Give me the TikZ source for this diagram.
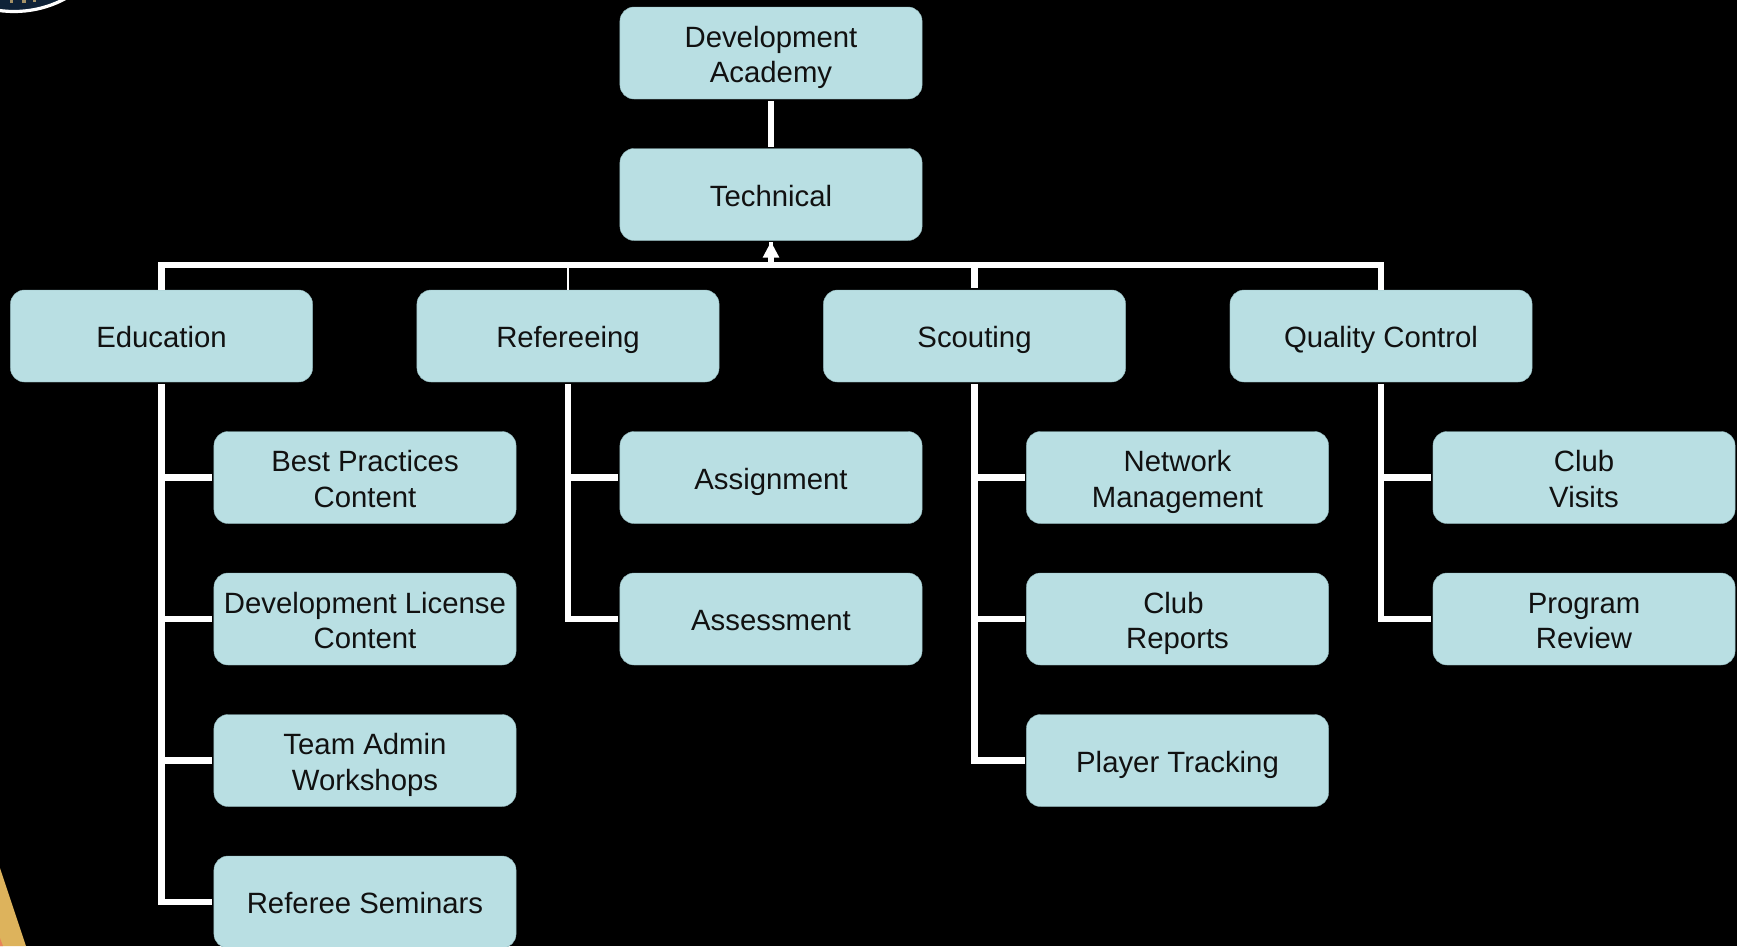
\documentclass[tikz,border=0pt]{standalone}
\usepackage{fontspec}
\setmainfont{Liberation Sans}
\usetikzlibrary{arrows.meta}
\definecolor{boxfill}{HTML}{B9DFE3}
\definecolor{boxedge}{HTML}{8FB4B8}
\definecolor{txt}{HTML}{111111}
\definecolor{seal}{HTML}{0E2238}
\definecolor{gold}{HTML}{DDB35C}
\definecolor{coral}{HTML}{E8845A}
\newcommand{\topstrut}{\rule{0pt}{23.7pt}}
\newcommand{\botstrut}{\rule[-6pt]{0pt}{6pt}}
\newcommand{\highstrut}{\rule{0pt}{24pt}}
\tikzset{
  box/.style={draw=boxedge,line width=0.3pt,fill=boxfill,rounded corners=10.5pt,minimum width=226.6pt,minimum height=69pt,
    inner sep=0pt,align=center,text=txt,font=\fontsize{22}{26.6}\selectfont,
    execute at begin node=\topstrut,execute at end node=\botstrut},
  conn/.style={draw=white,line width=4.6pt,miter limit=10},
  thin conn/.style={draw=white,line width=0.9pt},
  speck/.style={fill=gold!80!white,opacity=0.7},
}
\begin{document}
\begin{tikzpicture}[x=0.75pt,y=-0.75pt]
\useasboundingbox (0,0) rectangle (1737,946);
\clip (0,0) rectangle (1737,946);
\fill[black] (0,0) rectangle (1737,946);
% decorative fragments at the corners
\draw[fill=seal,draw=white,line width=2.4pt] (14,-97) circle (108.5);
\fill[speck] (10,0) rectangle (13,3);
\fill[speck] (22,0) rectangle (26,3);
\fill[speck] (33,0) rectangle (36,2);
\fill[gold] (0,868) -- (26,946) -- (0,946) -- cycle;
\fill[coral] (0,938) -- (3,946) -- (0,946) -- cycle;
% nodes
\node[box] (da) at (771,53) {\highstrut Development\\Academy};
\node[box] (tech) at (771,194.5) {Technical};
\node[box] (edu) at (161.5,336) {Education};
\node[box] (ref) at (568,336) {Refereeing};
\node[box] (sco) at (974.5,336) {Scouting};
\node[box] (qc) at (1381,336) {Quality Control};
\node[box] (e1) at (365,477.5) {\highstrut Best Practices\\Content};
\node[box] (e2) at (365,619) {\highstrut Development License\\Content};
\node[box] (e3) at (365,760.5) {\highstrut Team Admin\\Workshops};
\node[box] (e4) at (365,902) {Referee Seminars};
\node[box] (r1) at (771,477.5) {Assignment};
\node[box] (r2) at (771,619) {Assessment};
\node[box] (s1) at (1177.5,477.5) {\highstrut Network\\Management};
\node[box] (s2) at (1177.5,619) {\highstrut Club\hbox to 6.1pt{}\\Reports};
\node[box] (s3) at (1177.5,760.5) {Player Tracking};
\node[box] (q1) at (1584,477.5) {\highstrut Club\\Visits};
\node[box] (q2) at (1584,619) {\highstrut Program\\Review};
\coordinate (bar) at (771,265);
% connectors
\draw[conn,shorten <=1.6pt,shorten >=1.2pt] (da.south) -- (tech.north);
\draw[conn] (edu.north) |- (bar);
\draw[conn] (qc.north) |- (bar);
\draw[conn,shorten <=1.2pt] (sco.north) -- (sco.north |- bar);
\draw[thin conn] (ref.north) -- (ref.north |- bar);
\draw[conn,line width=4.4pt,-{Triangle[width=11.5pt,length=12pt]},shorten >=0.6pt] ([yshift=-2.2pt]bar) -- (tech.south);
\draw[conn,line width=3.6pt,shorten >=0.6pt] (bar) -- (tech.south);
\foreach \p/\c in {edu/e1,edu/e2,edu/e3,edu/e4,ref/r1,ref/r2,sco/s1,sco/s2,sco/s3,qc/q1,qc/q2}
  \draw[conn,shorten <=1.5pt,shorten >=1.2pt] (\p.south) |- (\c.west);
\end{tikzpicture}
\end{document}
